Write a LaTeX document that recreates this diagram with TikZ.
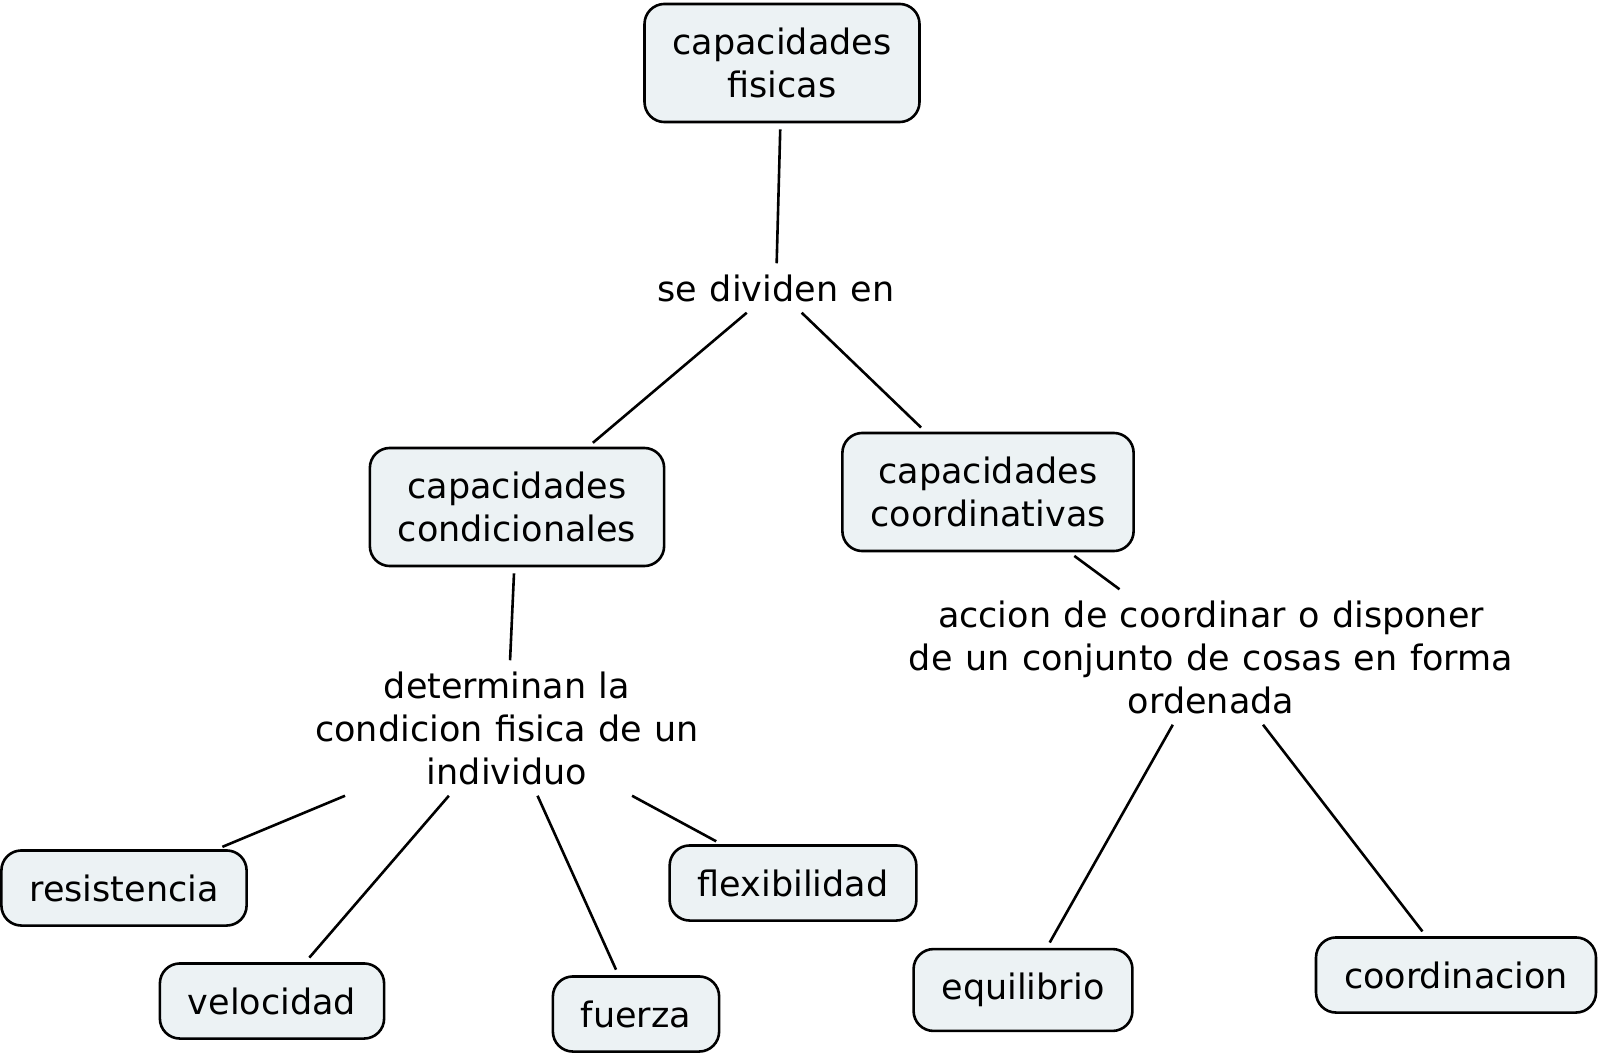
\documentclass[tikz,border=0pt]{standalone}
\usepackage{fontspec}
\setmainfont[WordSpace=1.12]{DejaVu Sans}
\usetikzlibrary{positioning}
\definecolor{boxfill}{RGB}{236,242,244}

\begin{document}
\begin{tikzpicture}[
  x=1pt, y=-1pt,
  font=\fontsize{35}{43}\selectfont,
  concept/.style={draw, line width=2.6pt, rounded corners=20pt, fill=boxfill,
                  align=center, inner xsep=28pt, inner ysep=24pt},
  linkph/.style={align=center, inner sep=11pt},
  conn/.style={line width=2.6pt},
  tobox/.style={conn, shorten >=6pt},
  frombox/.style={conn, shorten <=6pt},
]
  \useasboundingbox (0,0) rectangle (1600,1059);

  % top concept
  \node[concept] (fisicas) at (782,63) {capacidades\\fisicas};
  \node[linkph] (divide) at (776,288) {se dividen en};

  % the two groups
  \node[concept] (condic) at (517,507) {capacidades\\condicionales};
  \node[concept] (coord) at (988,492) {capacidades\\coordinativas};

  % linking phrases
  \node[linkph] (determ) at (507,728)
    {determinan la\\condicion fisica de un\\individuo};
  \node[linkph] (accion) at (1211,657)
    {accion de coordinar o disponer\\de un conjunto de cosas en forma\\ordenada};

  % leaves
  \node[concept] (resist) at (124,888) {resistencia};
  \node[concept] (veloc) at (272,1001) {velocidad};
  \node[concept] (fuerza) at (636,1014) {fuerza};
  \node[concept] (flexi) at (793,883) {flexibilidad};
  \node[concept] (equil) at (1023,990) {equilibrio};
  \node[concept] (coordin) at (1456,975) {coordinacion};

  % connectors
  \draw[frombox] (fisicas) -- (divide);
  \draw[tobox] (divide) -- (condic);
  \draw[tobox] (divide) -- (coord);
  \draw[frombox] (condic) -- (determ);
  \draw[frombox] (coord) -- (accion);
  \draw[tobox] (determ) -- (resist);
  \draw[tobox] (determ) -- (veloc);
  \draw[tobox] (determ) -- (fuerza);
  \draw[tobox] (determ) -- (flexi);
  \draw[tobox] (accion) -- (equil);
  \draw[tobox] (accion) -- (coordin);
\end{tikzpicture}
\end{document}
